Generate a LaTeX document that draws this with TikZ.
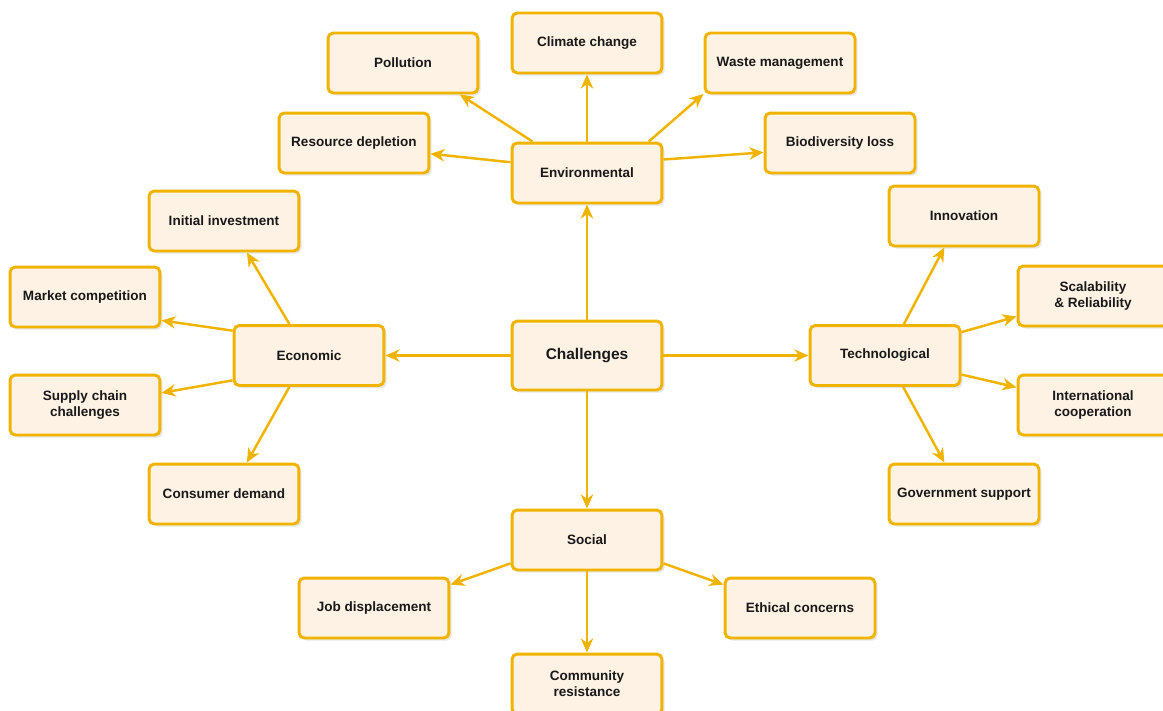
\documentclass[tikz,border=0pt]{standalone}
\usepackage{fontspec}
\setmainfont{Liberation Sans}
\usetikzlibrary{arrows.meta,shadows}
\definecolor{boxline}{RGB}{240,180,0}
\definecolor{boxfill}{RGB}{253,242,228}
\begin{document}
\begin{tikzpicture}[x=0.02cm,y=-0.02cm,line join=round,>={Stealth[length=8pt,width=7pt,inset=2.5pt]}]
	\tikzset{box style/.style={draw=boxline,fill=boxfill,line width=1.7pt,rounded corners=3pt,minimum width=3cm,minimum height=1.2cm,align=center,text=black!90,font=\fontsize{7.7}{9.2}\selectfont\bfseries,drop shadow={shadow xshift=1.5pt,shadow yshift=-1.5pt,opacity=0.2}}}
	\tikzset{link style/.style={->,draw=boxline,line width=1.4pt}}
	\useasboundingbox (0,0) rectangle (1163,710);
	\clip (0,0) rectangle (1163,710);
	% centre
	\node[box style,minimum height=1.38cm,font=\fontsize{8.8}{10}\selectfont\bfseries] (chal) at (587,355.5) {Challenges};
	\node[box style] (env) at (587,173) {Environmental};
	\node[box style] (eco) at (309,355.5) {Economic};
	\node[box style] (tech) at (885,355.5) {Technological};
	\node[box style] (soc) at (587,540) {Social};
	% environmental
	\node[box style] (climate) at (587,43) {Climate change};
	\node[box style] (pollution) at (403,63) {Pollution};
	\node[box style] (waste) at (780,63) {Waste management};
	\node[box style] (resource) at (354,143) {Resource depletion};
	\node[box style] (biodiv) at (840,143) {Biodiversity loss};
	% economic
	\node[box style] (invest) at (224,221) {Initial investment};
	\node[box style] (market) at (85,297) {Market competition};
	\node[box style] (supply) at (85,405) {Supply chain\\challenges};
	\node[box style] (demand) at (224,494) {Consumer demand};
	% technological
	\node[box style] (innov) at (964,216) {Innovation};
	\node[box style] (scale) at (1093,296) {Scalability\\\& Reliability};
	\node[box style] (intl) at (1093,405) {International\\cooperation};
	\node[box style] (gov) at (964,494) {Government support};
	% social
	\node[box style] (job) at (374,608) {Job displacement};
	\node[box style] (ethics) at (800,608) {Ethical concerns};
	\node[box style] (commun) at (587,684) {Community\\resistance};
	% links
	\draw[link style] (chal.north) -- (env.south);
	\draw[link style] (chal.west) -- (eco.east);
	\draw[link style] (chal.east) -- (tech.west);
	\draw[link style] (chal.south) -- (soc.north);
	\draw[link style] (env.north) -- (climate.south);
	\draw[link style] (env.150) -- (pollution.331);
	\draw[link style] (env.27) -- (waste.202);
	\draw[link style] (env.172) -- (resource.352);
	\draw[link style] (env.10) -- (biodiv.187);
	\draw[link style] (eco.122) -- (invest.306);
	\draw[link style] (eco.162) -- (market.343);
	\draw[link style] (eco.198) -- (supply.9);
	\draw[link style] (eco.238) -- (demand.54);
	\draw[link style] (tech.59) -- (innov.238);
	\draw[link style] (tech.17) -- (scale.195);
	\draw[link style] (tech.346) -- (intl.167);
	\draw[link style] (tech.300) -- (gov.122);
	\draw[link style] (soc.197) -- (job.17);
	\draw[link style] (soc.343) -- (ethics.163);
	\draw[link style] (soc.south) -- (commun.north);
\end{tikzpicture}
\end{document}
